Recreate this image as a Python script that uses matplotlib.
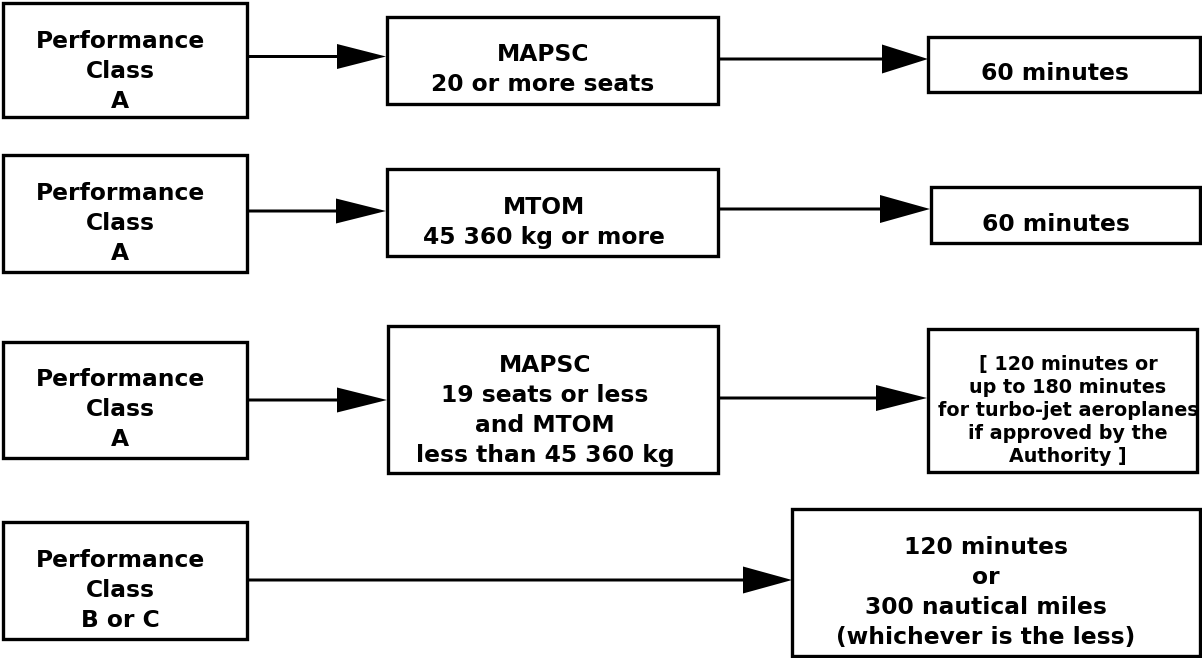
import matplotlib
matplotlib.use("Agg")
import matplotlib.pyplot as plt
from matplotlib.patches import Rectangle

# ---- content ----
left_texts = [
    ["Performance", "Class", "A"],
    ["Performance", "Class", "A"],
    ["Performance", "Class", "A"],
    ["Performance", "Class", "B or C"],
]
middle_texts = [
    ["MAPSC", "20 or more seats"],
    ["MTOM", "45 360 kg or more"],
    ["MAPSC", "19 seats or less", "and MTOM", "less than 45 360 kg"],
]
right_texts = [
    ["60 minutes"],
    ["60 minutes"],
    ["[ 120 minutes or", "up to 180 minutes", "for turbo-jet aeroplanes",
     "if approved by the", "Authority ]"],
    ["120 minutes", "or", "300 nautical miles", "(whichever is the less)"],
]

# ---- layout (pixel coordinates, y downwards) ----
W, H = 1202, 658
left_boxes = [(3, 3, 247, 117), (3, 155, 247, 272), (3, 342, 247, 458), (3, 522, 247, 639)]
middle_boxes = [(387, 17, 718, 104), (387, 169, 718, 256), (388, 326, 718, 473)]
right_boxes = [(928, 37, 1200, 92), (931, 187, 1200, 243), (928, 329, 1197, 472), (792, 509, 1200, 656)]

left_tc = [(120, 69), (120, 221), (120, 407.5), (120, 588)]
middle_tc = [(543, 67.5), (544, 220), (545, 408)]
right_tc = [(1055, 71), (1056, 222), (1068, 409), (986, 590)]
FS = 16.8
right_fs = [FS, FS, 13.8, FS]
right_sp = [30, 30, 23, 30]

# arrows: (x_start, x_end, y, head_length, head_width)
arrows = [
    (247, 386, 56.5, 49, 25), (718, 928, 59, 46, 29),
    (247, 386, 211, 50, 25), (718, 930, 209, 50, 28),
    (247, 387, 400, 50, 25), (718, 927, 398, 51, 26),
    (247, 792, 580, 49, 27),
]

fig = plt.figure(figsize=(W / 100, H / 100), dpi=100)
ax = fig.add_axes([0, 0, 1, 1])
ax.set_xlim(0, W)
ax.set_ylim(H, 0)
ax.axis("off")

FONT = "DejaVu Sans"


def draw_box(b):
    x0, y0, x1, y1 = b
    ax.add_patch(Rectangle((x0, y0), x1 - x0, y1 - y0, fill=False,
                           edgecolor="black", linewidth=2.4))


def draw_lines(lines, center, fs=FS, spacing=30):
    cx, cy = center
    cap = 0.729 * fs * 100 / 72
    n = len(lines)
    for i, s in enumerate(lines):
        yc = cy + (i - (n - 1) / 2) * spacing
        ax.text(cx, yc + cap / 2, s, ha="center", va="baseline",
                fontsize=fs, fontweight="bold", family=FONT, color="black")


for b, t, c in zip(left_boxes, left_texts, left_tc):
    draw_box(b)
    draw_lines(t, c)
for b, t, c in zip(middle_boxes, middle_texts, middle_tc):
    draw_box(b)
    draw_lines(t, c)
for b, t, c, fs, sp in zip(right_boxes, right_texts, right_tc, right_fs, right_sp):
    draw_box(b)
    draw_lines(t, c, fs, sp)

for xs, xe, y, hl, hw in arrows:
    ax.arrow(xs, y, xe - xs, 0, width=3, head_length=hl, head_width=hw,
             length_includes_head=True, color="black", linewidth=0)

fig.savefig("out.png", dpi=100, facecolor="white")
